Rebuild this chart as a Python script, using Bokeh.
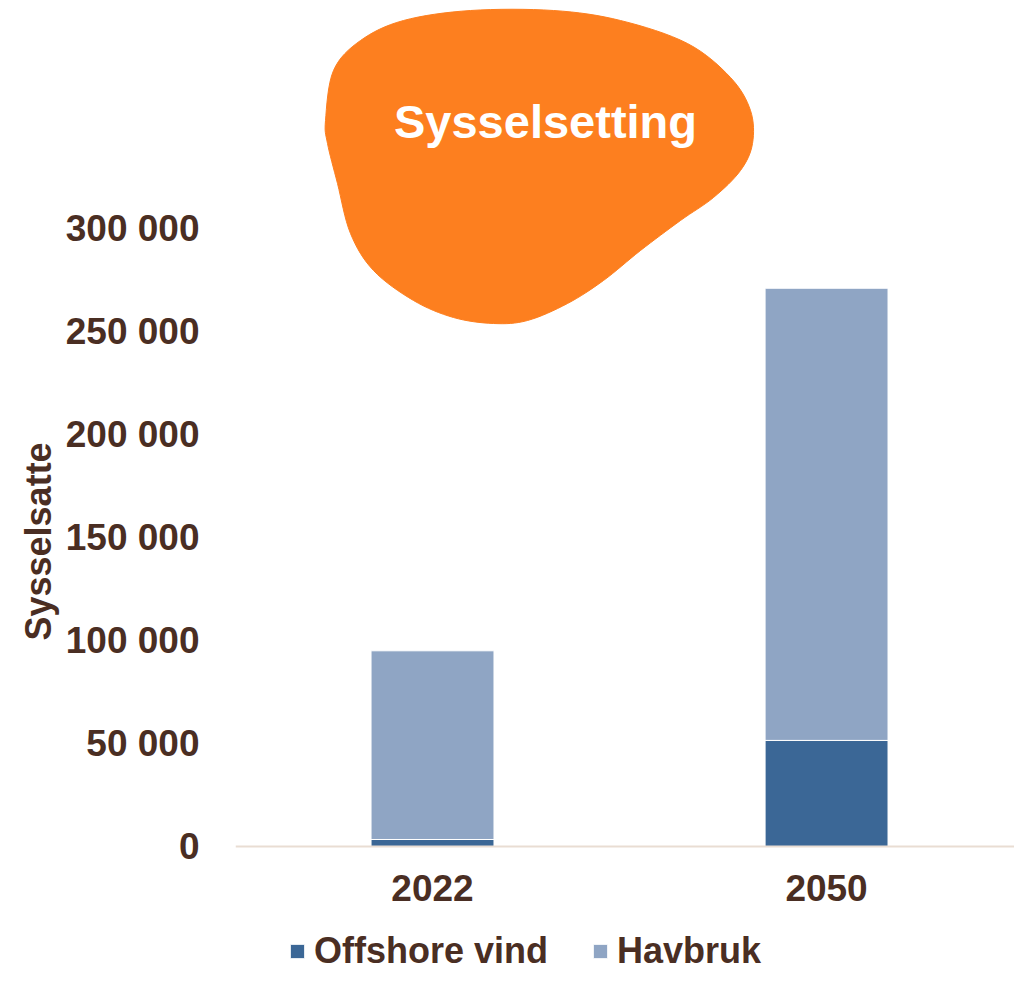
import numpy as np
from bokeh.plotting import figure
from bokeh.models import (ColumnDataSource, Range1d, FixedTicker,
                          Legend, LegendItem, Title)
from bokeh.embed import file_html
from bokeh.resources import INLINE
from bokeh.core.properties import value

# ---- data ----
years = ["2022", "2050"]
series = ["Offshore vind", "Havbruk"]
offshore_vind = [3400, 51500]
havbruk = [91600, 219500]
tick_values = [0, 50000, 100000, 150000, 200000, 250000, 300000]
tick_labels = ["0", "50 000", "100 000", "150 000", "200 000", "250 000", "300 000"]
title_text = "Sysselsetting"
y_title = "Sysselsatte"

colors = ["#3b6796", "#8fa5c4"]
text_color = "#4a2e23"
font = "Liberation Sans"

W, H = 1014, 972
LEFT = 235

# category positions (slot centres)
xpos = [i + 0.5 for i in range(len(years))]

p = figure(width=W, height=H, x_range=Range1d(0, 1.977),
           y_range=Range1d(-61165, 410680), output_backend="svg", toolbar_location=None,
           min_border_left=LEFT, min_border_right=0, min_border_top=0,
           min_border_bottom=0)
p.outline_line_color = None
p.xgrid.visible = False
p.ygrid.visible = False
p.background_fill_color = "white"

src = ColumnDataSource(dict(x=xpos, **{"Offshore vind": offshore_vind, "Havbruk": havbruk}))
rs = p.vbar_stack(series, x="x", width=0.312, source=src, color=colors,
                  line_color="white", line_width=1)

# y axis
p.yaxis.ticker = FixedTicker(ticks=tick_values)
p.yaxis.major_label_overrides = {v: l for v, l in zip(tick_values, tick_labels)}
p.yaxis.axis_line_color = None
p.yaxis.major_tick_line_color = None
p.yaxis.minor_tick_line_color = None
p.yaxis.major_label_standoff = 30
p.yaxis.major_label_text_font = font
p.yaxis.major_label_text_font_style = "bold"
p.yaxis.major_label_text_font_size = "37px"
p.yaxis.major_label_text_color = text_color

ytitle = Title(text=y_title, align="left", offset=332, text_font=font,
               text_font_style="bold", text_font_size="36px", text_color=text_color,
               standoff=8)
p.add_layout(ytitle, "left")

# x axis sits at y = 0 inside the frame
p.xaxis.fixed_location = 0
p.xaxis.ticker = FixedTicker(ticks=xpos)
p.xaxis.major_label_overrides = {x: y for x, y in zip(xpos, years)}
p.xaxis.axis_line_color = "#e9ddd3"
p.xaxis.axis_line_width = 2
p.xaxis.major_tick_line_color = None
p.xaxis.minor_tick_line_color = None
p.xaxis.major_label_standoff = 22
p.xaxis.major_label_text_font = font
p.xaxis.major_label_text_font_style = "bold"
p.xaxis.major_label_text_font_size = "37px"
p.xaxis.major_label_text_color = text_color

# legend
legend = Legend(items=[LegendItem(label=s, renderers=[r]) for s, r in zip(series, rs)],
                orientation="horizontal", location=(53, 0),
                label_text_font=font, label_text_font_style="bold",
                label_text_font_size="36px", label_text_color=text_color,
                glyph_width=18, glyph_height=18, label_standoff=8, spacing=43,
                padding=0, margin=0, border_line_color=None, background_fill_alpha=0)
p.add_layout(legend, "center")

# decorative title blob in pixel-like extra ranges
p.extra_x_ranges = {"px": Range1d(235, 1014)}
p.extra_y_ranges = {"px": Range1d(972, 0)}
ctrl = np.array([
    (325, 120), (333, 70), (360, 40), (403, 20), (470, 10), (553, 10), (620, 20),
    (687, 43), (730, 77), (750, 110), (752, 143), (740, 170), (713, 197), (680, 220),
    (640, 250), (603, 280), (567, 303), (527, 320), (493, 323), (453, 317), (413, 300),
    (373, 270), (350, 233), (337, 183), (327, 143)], dtype=float)
n = len(ctrl)
pts = []
for i in range(n):
    p0, p1, p2, p3 = ctrl[(i - 1) % n], ctrl[i], ctrl[(i + 1) % n], ctrl[(i + 2) % n]
    for t in np.linspace(0, 1, 8, endpoint=False):
        t2, t3 = t * t, t * t * t
        pts.append(0.5 * ((2 * p1) + (-p0 + p2) * t + (2 * p0 - 5 * p1 + 4 * p2 - p3) * t2
                          + (-p0 + 3 * p1 - 3 * p2 + p3) * t3))
pts = np.array(pts)
p.patch(pts[:, 0], pts[:, 1], x_range_name="px", y_range_name="px",
        fill_color="#fd7f1f", line_color="#fd7f1f")
p.text(x=[545], y=[121], text=[title_text], x_range_name="px", y_range_name="px",
       text_color="white", text_font=value(font), text_font_style="bold",
       text_font_size="47px", text_align="center", text_baseline="alphabetic")

open("out.html", "w").write(file_html(p, INLINE))
